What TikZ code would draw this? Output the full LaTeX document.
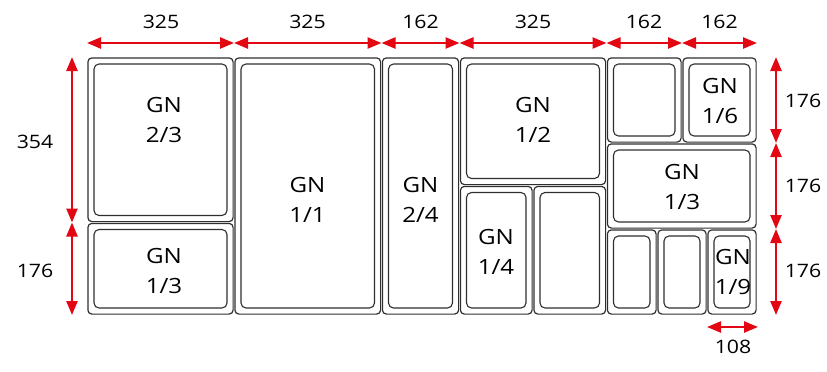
\documentclass[tikz,border=0pt]{standalone}
\usepackage{fontspec}
\setmainfont{Open Sans}[FakeStretch=1.15]
\usetikzlibrary{arrows.meta}
\definecolor{dimred}{HTML}{E30613}
\definecolor{panline}{HTML}{2E2E2E}
\tikzset{
  outerpan/.style={draw=panline, line width=1.2pt, rounded corners=4pt},
  innerpan/.style={draw=panline, line width=1.1pt, rounded corners=5pt},
  panlabel/.style={font=\fontsize{21}{30}\selectfont, align=center, text=black, inner sep=0pt},
  dimarrow/.style={draw=dimred, line width=2.4pt, {Triangle[length=14pt,width=11pt]}-{Triangle[length=14pt,width=11pt]}},
  dimlabel/.style={font=\fontsize{18.5}{20}\selectfont, text=black, inner sep=0pt}
}
% #1 name, #2-#5 box, #6 label x, #7 label y, #8 text
\newcommand\gnpan[8]{%
  \draw[outerpan] ({#2+0.9},{#3+0.9}) rectangle ({#4-0.9},{#5-0.9});
  \draw[innerpan] ({#2+7},{#3+7}) rectangle ({#4-7},{#5-7});
  \node[panlabel] (#1) at (#6,#7) {#8};
}
\begin{document}
\begin{tikzpicture}[x=1pt,y=-1pt]
\useasboundingbox (0,0) rectangle (827,372);
% pans
\gnpan{p23}{87}{57}{234}{222.5}{164}{120}{GN\\2/3}
\gnpan{p13a}{87}{222.5}{234}{315}{164}{271}{GN\\1/3}
\gnpan{p11}{234}{57}{381.5}{315}{307.5}{200}{GN\\1/1}
\gnpan{p24}{381.5}{57}{459.5}{315}{420.5}{200}{GN\\2/4}
\gnpan{p12}{459.5}{57}{606.5}{185.5}{533}{120}{GN\\1/2}
\gnpan{p14a}{459.5}{185.5}{533}{315}{496}{252}{GN\\1/4}
\gnpan{p14b}{533}{185.5}{606.5}{315}{570}{250}{}
\gnpan{p16a}{606.5}{57}{682}{143}{644}{100}{}
\gnpan{p16b}{682}{57}{757}{143}{720}{101}{GN\\1/6}
\gnpan{p13b}{606.5}{143}{757}{229}{682}{187}{GN\\1/3}
\gnpan{p19a}{606.5}{229}{657}{315}{632}{272}{}
\gnpan{p19b}{657}{229}{707}{315}{682}{272}{}
\gnpan{p19c}{707}{229}{757}{315}{733}{272}{GN\\1/9}
% top dimension points
\coordinate (t0) at (87,43);
\coordinate (t1) at (234,43);
\coordinate (t2) at (381.5,43);
\coordinate (t3) at (459.5,43);
\coordinate (t4) at (606.5,43);
\coordinate (t5) at (682,43);
\coordinate (t6) at (757,43);
\draw[dimarrow] (t0) -- (t1);
\draw[dimarrow] (t1) -- (t2);
\draw[dimarrow] (t2) -- (t3);
\draw[dimarrow] (t3) -- (t4);
\draw[dimarrow] (t4) -- (t5);
\draw[dimarrow] (t5) -- (t6);
\node[dimlabel] (w1) at (161,22) {325};
\node[dimlabel] (w2) at (307.5,22) {325};
\node[dimlabel] (w3) at (420.5,22) {162};
\node[dimlabel] (w4) at (533,22) {325};
\node[dimlabel] (w5) at (644,22) {162};
\node[dimlabel] (w6) at (719.5,22) {162};
% left dimension
\coordinate (l0) at (72,57);
\coordinate (l1) at (72,222.5);
\coordinate (l2) at (72,315);
\draw[dimarrow] (l0) -- (l1);
\draw[dimarrow] (l1) -- (l2);
\node[dimlabel] (h1) at (35,142) {354};
\node[dimlabel] (h2) at (35,271) {176};
% right dimension
\coordinate (r0) at (776,57);
\coordinate (r1) at (776,143);
\coordinate (r2) at (776,229);
\coordinate (r3) at (776,315);
\draw[dimarrow] (r0) -- (r1);
\draw[dimarrow] (r1) -- (r2);
\draw[dimarrow] (r2) -- (r3);
\node[dimlabel] (rh1) at (803,101) {176};
\node[dimlabel] (rh2) at (803,186) {176};
\node[dimlabel] (rh3) at (803,271) {176};
% bottom dimension
\coordinate (b0) at (707,327);
\coordinate (b1) at (758,327);
\draw[dimarrow] (b0) -- (b1);
\node[dimlabel] (bw) at (733,347) {108};
\end{tikzpicture}
\end{document}
